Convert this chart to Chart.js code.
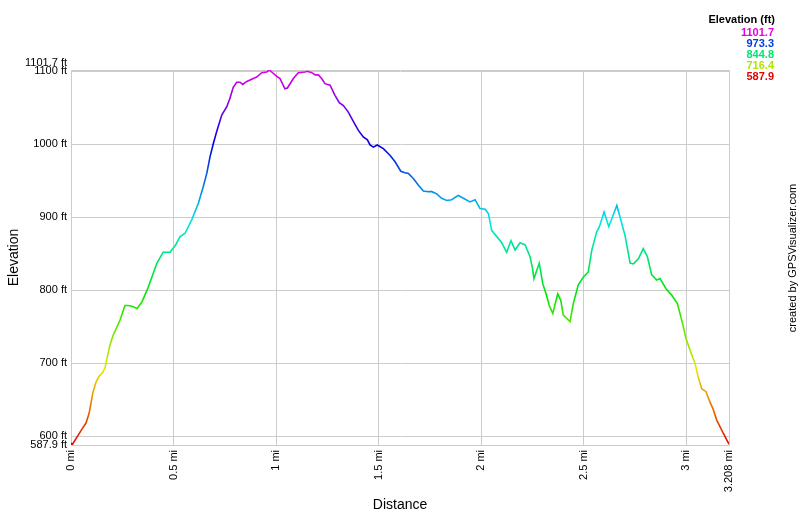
<!DOCTYPE html>
<html>
<head>
<meta charset="utf-8">
<script src="https://cdn.jsdelivr.net/npm/chart.js@4"></script>
<style>
  body { margin: 0; background: #fff; }
  #wrap { width: 800px; height: 517px; position: relative; }
</style>
</head>
<body>
<div id="wrap"><canvas id="myChart"></canvas></div>
<script>
// distance in miles, elevation in feet
let distances = [0.000, 0.005, 0.030, 0.054, 0.073, 0.088, 0.107, 0.122, 0.137, 0.156, 0.166, 0.190, 0.205, 0.239, 0.263, 0.278, 0.297, 0.322, 0.346, 0.375, 0.419, 0.449, 0.483, 0.491, 0.510, 0.531, 0.556, 0.588, 0.621, 0.645, 0.662, 0.678, 0.694, 0.710, 0.735, 0.759, 0.775, 0.791, 0.808, 0.824, 0.837, 0.857, 0.889, 0.905, 0.930, 0.954, 0.967, 1.003, 1.019, 1.043, 1.055, 1.084, 1.108, 1.141, 1.152, 1.174, 1.190, 1.206, 1.222, 1.238, 1.263, 1.287, 1.308, 1.328, 1.352, 1.377, 1.401, 1.425, 1.445, 1.458, 1.474, 1.493, 1.523, 1.555, 1.580, 1.608, 1.628, 1.645, 1.669, 1.693, 1.718, 1.742, 1.759, 1.783, 1.807, 1.832, 1.856, 1.888, 1.913, 1.945, 1.970, 1.994, 2.018, 2.035, 2.051, 2.083, 2.100, 2.124, 2.145, 2.165, 2.189, 2.214, 2.238, 2.250, 2.257, 2.283, 2.300, 2.316, 2.332, 2.349, 2.373, 2.388, 2.400, 2.433, 2.449, 2.473, 2.498, 2.522, 2.539, 2.563, 2.576, 2.599, 2.622, 2.661, 2.677, 2.701, 2.726, 2.742, 2.766, 2.790, 2.810, 2.831, 2.856, 2.872, 2.901, 2.929, 2.956, 2.982, 2.998, 3.018, 3.042, 3.058, 3.075, 3.096, 3.112, 3.132, 3.148, 3.164, 3.180, 3.197, 3.208];
let elevations = [591, 588, 599, 610, 618, 631, 660, 674, 682, 688, 694, 725, 738, 759, 779, 779, 778, 775, 784, 803, 837, 852, 852, 855, 862, 873, 878, 896, 919, 942, 960, 983, 1001, 1017, 1040, 1051, 1063, 1078, 1085, 1085, 1082, 1086, 1090, 1092, 1098, 1099, 1101.7, 1093, 1090, 1076, 1077, 1090, 1098, 1099, 1100, 1098, 1095, 1095, 1090, 1083, 1081, 1067, 1057, 1053, 1044, 1031, 1019, 1010, 1006, 999, 996, 999, 994, 985, 976, 963, 961, 960, 953, 944, 936, 935, 935, 932, 926, 923, 924, 930, 926, 921, 924, 912, 911, 905, 882, 871, 865, 852, 868, 855, 865, 862, 846, 830, 816, 837, 809, 795, 779, 768, 795, 786, 766, 757, 782, 807, 818, 825, 855, 880, 887, 907, 887, 916, 900, 875, 837, 836, 843, 857, 846, 821, 814, 816, 802, 793, 782, 754, 734, 718, 700, 681, 665, 661, 649, 636, 622, 613, 604, 595, 589];

let minElev = 587.9;
let maxElev = 1101.7;
let totalDist = 3.208;
let xTicks = [0, 0.5, 1, 1.5, 2, 2.5, 3, 3.208];
let yTicks = [587.9, 600, 700, 800, 900, 1000, 1100, 1101.7];
let legendValues = [1101.7, 973.3, 844.8, 716.4, 587.9];

function elevColor(v) {
    let hue = (v - minElev) / (maxElev - minElev) * 300;
    return `hsl(${hue}, 100%, 45%)`;
}

let points = [];
for (let i = 0; i < distances.length; i++) {
    points.push({x: distances[i], y: elevations[i]});
}

let extras = {
    id: 'extras',
    afterDraw(chart) {
        let ctx = chart.ctx;
        ctx.save();
        ctx.textAlign = 'right';
        ctx.textBaseline = 'middle';
        ctx.fillStyle = '#000';
        ctx.font = 'bold 11px "Liberation Sans", Arial, sans-serif';
        ctx.fillText('Elevation (ft)', 775, 20);
        for (let i = 0; i < legendValues.length; i++) {
            ctx.fillStyle = elevColor(legendValues[i]);
            ctx.fillText(legendValues[i].toFixed(1), 774, 33 + i * 11);
        }
        ctx.translate(793, 258);
        ctx.rotate(-Math.PI / 2);
        ctx.textAlign = 'center';
        ctx.fillStyle = '#000';
        ctx.font = '11px "Liberation Sans", Arial, sans-serif';
        ctx.fillText('created by GPSVisualizer.com', 0, 0);
        ctx.restore();
    }
};

let ctx = document.getElementById('myChart').getContext('2d');
let chart = new Chart(ctx, {
    type: 'line',
    data: {
        datasets: [{
            data: points,
            borderWidth: 1.6,
            pointRadius: 0,
            tension: 0,
            borderColor: function (context) {
                let c = context.chart;
                if (!c.chartArea) return '#f00';
                let ys = c.scales.y;
                let g = c.ctx.createLinearGradient(0, ys.getPixelForValue(minElev), 0, ys.getPixelForValue(maxElev));
                for (let i = 0; i <= 30; i++) {
                    g.addColorStop(i / 30, elevColor(minElev + (maxElev - minElev) * i / 30));
                }
                return g;
            }
        }]
    },
    options: {
        responsive: true,
        maintainAspectRatio: false,
        animation: false,
        layout: {padding: {top: 70, right: 71, left: 0, bottom: 0}},
        plugins: {legend: {display: false}, tooltip: {enabled: false}},
        scales: {
            x: {
                type: 'linear',
                min: 0,
                max: totalDist,
                afterBuildTicks: scale => { scale.ticks = xTicks.map(v => ({value: v})); },
                afterFit: scale => { scale.height = 72; },
                grid: {color: '#cccccc', drawTicks: false},
                border: {color: '#cccccc'},
                ticks: {
                    autoSkip: false,
                    minRotation: 90,
                    maxRotation: 90,
                    padding: 5,
                    color: '#000',
                    font: {family: '"Liberation Sans", Arial, sans-serif', size: 11},
                    callback: v => v + ' mi'
                },
                title: {
                    display: true,
                    text: 'Distance',
                    color: '#000',
                    padding: {top: 0, bottom: 3},
                    font: {family: '"Liberation Sans", Arial, sans-serif', size: 14}
                }
            },
            y: {
                min: minElev,
                max: maxElev,
                afterBuildTicks: scale => { scale.ticks = yTicks.map(v => ({value: v})); },
                afterFit: scale => { scale.width = 71; },
                grid: {color: '#cccccc', drawTicks: false},
                border: {color: '#cccccc'},
                ticks: {
                    autoSkip: false,
                    padding: 4,
                    color: '#000',
                    font: {family: '"Liberation Sans", Arial, sans-serif', size: 11},
                    callback: v => v === maxElev ? [v + ' ft', ''] : v + ' ft'
                },
                title: {
                    display: true,
                    text: 'Elevation',
                    color: '#000',
                    padding: {top: 6, bottom: 0},
                    font: {family: '"Liberation Sans", Arial, sans-serif', size: 14}
                }
            }
        }
    },
    plugins: [extras]
});
</script>
</body>
</html>
